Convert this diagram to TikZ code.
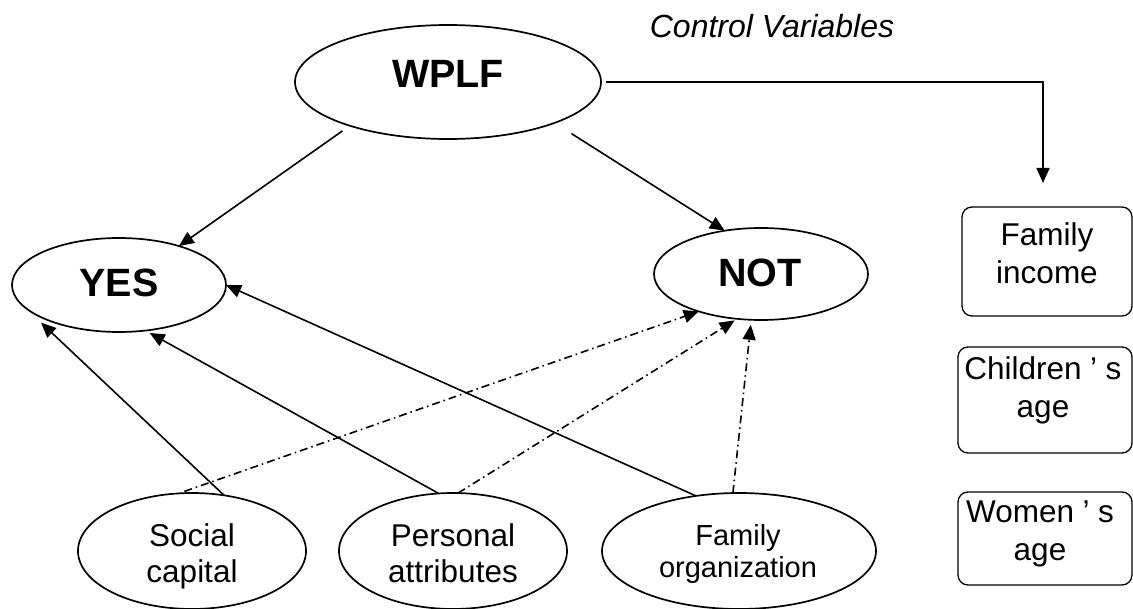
\documentclass[tikz,border=0pt]{standalone}
\usepackage{fontspec}
\setmainfont{Liberation Sans}
\usetikzlibrary{arrows.meta,shapes.geometric}
\begin{document}
\begin{tikzpicture}[x=1pt,y=-1pt,
  ell/.style={draw, ellipse, line width=1.7pt, inner sep=0pt, outer sep=0pt},
  box/.style={draw, rectangle, rounded corners=10pt, line width=1.3pt, inner sep=0pt, outer sep=0pt},
  arr/.style={line width=1.6pt, -{Triangle[length=15pt,width=13pt]}},
  dd/.style={arr, dash pattern=on 8pt off 4pt on 1.5pt off 4pt},
  txt/.style={align=center, inner sep=0pt, font=\fontsize{31.5}{36}\selectfont},
  txts/.style={align=center, inner sep=0pt, font=\fontsize{29}{32}\selectfont},
  txtb/.style={align=center, inner sep=0pt, font=\fontsize{31.5}{38}\selectfont},
  big/.style={inner sep=0pt, font=\fontsize{39.5}{44}\selectfont\bfseries}]
\useasboundingbox (0,0) rectangle (1133,609);

% ellipses
\node[ell, minimum width=306pt, minimum height=114pt] (wplf) at (448,82) {};
\node[ell, minimum width=214pt, minimum height=94pt] (yes) at (119,285) {};
\node[ell, minimum width=214pt, minimum height=92pt] (not) at (761,274) {};
\node[ell, minimum width=228pt, minimum height=116pt] (soc) at (192,551) {};
\node[ell, minimum width=228pt, minimum height=116pt] (per) at (453,551) {};
\node[ell, minimum width=274pt, minimum height=116pt] (fam) at (739,551) {};

% texts in ellipses
\node[big] (wplft) at (448,73.5) {WPLF};
\node[big] (yest) at (119,282.5) {YES};
\node[big] (nott) at (760,272.5) {NOT};
\node[txt] (soct) at (192,556.5) {Social\\capital};
\node[txt] (pert) at (453,553) {Personal\\attributes};
\node[txts] (famt) at (738,554) {Family\\organization};

% control variables
\node[inner sep=0pt, anchor=base, font=\fontsize{32}{36}\selectfont\itshape] (ctitle) at (772,38) {Control Variables};

% boxes
\node[box, minimum width=170pt, minimum height=109pt] (inc) at (1047,261.5) {};
\node[box, minimum width=174pt, minimum height=106pt] (chi) at (1045,400) {};
\node[box, minimum width=174pt, minimum height=93pt] (wom) at (1045,538.5) {};
\node[txtb] (inct) at (1047,253) {Family\\income};
\node[txtb] (chit) at (1043,390.3) {Children\makebox[24pt][c]{’}s\\age};
\node[txtb] (womt) at (1040,534.3) {Women\makebox[24pt][c]{’}s\\age};

% connectors
\draw[arr, shorten <=9pt] (wplf.204) -- (yes.33);
\draw[arr, shorten <=20pt] (wplf.339) -- (not.130);
\draw[arr, shorten >=23pt] (soc.60) -- (yes.193);
\draw[arr, shorten >=5pt] (per.104) -- (yes.300);
\draw[arr] (fam.128) -- (yes.0);
\draw[dd, shorten <=6pt] (soc.103) -- (not.211);
\draw[dd, shorten >=3pt] (per.85) -- (not.242);
\draw[dd, shorten >=5pt] (fam.96) -- (not.258);
\coordinate (ctl) at (1043,183);
\draw[arr, shorten <=5pt] (wplf.east) -| (ctl);
\end{tikzpicture}
\end{document}
